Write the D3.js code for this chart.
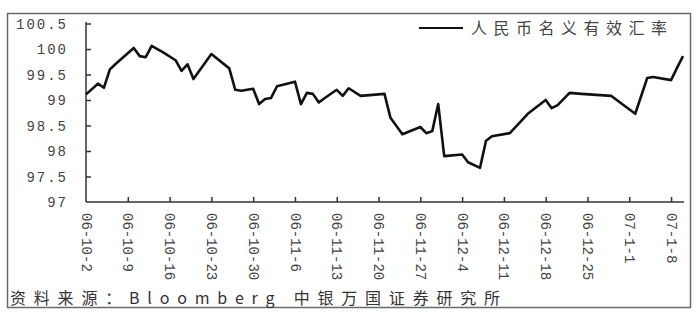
<!DOCTYPE html>
<html><head><meta charset="utf-8">
<script src="https://cdn.jsdelivr.net/npm/d3@7"></script>
<style>html,body{margin:0;padding:0;background:#fff;}svg{display:block;}</style>
</head><body>
<svg id="c" width="698" height="312"></svg>
<script>
const dates = ["2006-10-02","2006-10-04","2006-10-05","2006-10-06","2006-10-07","2006-10-10","2006-10-11","2006-10-12","2006-10-13","2006-10-15","2006-10-17","2006-10-18","2006-10-19","2006-10-20","2006-10-23","2006-10-26","2006-10-27","2006-10-28","2006-10-30","2006-10-31","2006-11-01","2006-11-02","2006-11-03","2006-11-06","2006-11-07","2006-11-08","2006-11-09","2006-11-10","2006-11-11","2006-11-13","2006-11-14","2006-11-15","2006-11-17","2006-11-21","2006-11-22","2006-11-24","2006-11-27","2006-11-28","2006-11-29","2006-11-30","2006-12-01","2006-12-04","2006-12-05","2006-12-07","2006-12-08","2006-12-09","2006-12-12","2006-12-15","2006-12-18","2006-12-19","2006-12-20","2006-12-22","2006-12-24","2006-12-29","2007-01-02","2007-01-04","2007-01-05","2007-01-08","2007-01-09","2007-01-10"];
const values = [99.11,99.32,99.24,99.60,99.71,100.02,99.86,99.84,100.06,99.93,99.78,99.57,99.70,99.41,99.90,99.62,99.20,99.18,99.22,98.92,99.02,99.04,99.27,99.36,98.92,99.14,99.12,98.95,99.04,99.20,99.08,99.23,99.08,99.12,98.65,98.33,98.47,98.35,98.39,98.92,97.90,97.93,97.78,97.67,98.20,98.29,98.35,98.73,99.00,98.84,98.90,99.14,99.12,99.08,98.73,99.43,99.45,99.39,99.63,99.86];
const tickDates = ["2006-10-02","2006-10-09","2006-10-16","2006-10-23","2006-10-30","2006-11-06","2006-11-13","2006-11-20","2006-11-27","2006-12-04","2006-12-11","2006-12-18","2006-12-25","2007-01-01","2007-01-08"];
const tickLabels = ["06-10-2","06-10-9","06-10-16","06-10-23","06-10-30","06-11-6","06-11-13","06-11-20","06-11-27","06-12-4","06-12-11","06-12-18","06-12-25","07-1-1","07-1-8"];
const yTicks = [97,97.5,98,98.5,99,99.5,100,100.5];
const yTickLabels = ["97","97.5","98","98.5","99","99.5","100","100.5"];
const seriesName = "人民币名义有效汇率";
const sourceText = "资料来源：Bloomberg 中银万国证券研究所";

const parse = d3.utcParse("%Y-%m-%d");
const data = dates.map((d,i)=>({date:parse(d), value:values[i]}));
const tDates = tickDates.map(parse);

const svg = d3.select("#c");
const mLeft = 86, mBottom = 202, mRight = 683, mTop = 23.5;
const x = d3.scaleUtc().domain([parse("2006-10-02"), parse("2007-01-10")]).range([mLeft, mRight]);
const y = d3.scaleLinear().domain([97, 100.5]).range([mBottom, mTop]);

// outer frame
svg.append("rect").attr("x",7.5).attr("y",13.5).attr("width",683).attr("height",294)
  .attr("fill","#fff").attr("stroke","#6a6a6a").attr("stroke-width",1.5);

const monoFont = "'Liberation Mono', 'DejaVu Sans Mono', monospace";

// y axis labels
const yLab = svg.append("g").attr("transform",`translate(${mLeft},0)`)
  .call(d3.axisLeft(y).tickValues(yTicks).tickSize(0).tickPadding(18).tickFormat((d,i)=>yTickLabels[i]));
yLab.select(".domain").remove();
yLab.selectAll("text").attr("font-family",monoFont).attr("font-size",14).attr("fill","#444")
  .attr("letter-spacing","2px").attr("dy","0.35em");
// y inward ticks
const yIn = svg.append("g").attr("transform",`translate(${mLeft},0)`)
  .call(d3.axisRight(y).tickValues(yTicks.slice(1)).tickSize(5).tickFormat(""));
yIn.select(".domain").remove();
yIn.selectAll("line").attr("stroke","#333").attr("stroke-width",1.5);

// x labels
const xLab = svg.append("g").attr("transform",`translate(0,${mBottom})`)
  .call(d3.axisBottom(x).tickValues(tDates).tickSize(0).tickFormat((d,i)=>tickLabels[i]));
xLab.select(".domain").remove();
xLab.selectAll("text")
  .attr("font-family",monoFont).attr("font-size",14).attr("fill","#444")
  .attr("text-anchor","start").attr("dy","0.35em").attr("y",0)
  .attr("transform","translate(0,11) rotate(90)")
  .attr("x",0);
// x inward ticks
const xIn = svg.append("g").attr("transform",`translate(0,${mBottom})`)
  .call(d3.axisTop(x).tickValues(tDates.slice(1)).tickSize(5).tickFormat(""));
xIn.select(".domain").remove();
xIn.selectAll("line").attr("stroke","#333").attr("stroke-width",1.5);

// axis lines
svg.append("line").attr("x1",mLeft).attr("x2",mLeft).attr("y1",22).attr("y2",mBottom)
  .attr("stroke","#333").attr("stroke-width",1.5);
svg.append("line").attr("x1",mLeft).attr("x2",mRight+1).attr("y1",mBottom).attr("y2",mBottom)
  .attr("stroke","#333").attr("stroke-width",1.5);

// series line
const line = d3.line().x(d=>x(d.date)).y(d=>y(d.value));
svg.append("path").datum(data).attr("d",line).attr("fill","none")
  .attr("stroke","#111").attr("stroke-width",2.6).attr("stroke-linejoin","round");

// legend
svg.append("line").attr("x1",419).attr("x2",463).attr("y1",28).attr("y2",28)
  .attr("stroke","#111").attr("stroke-width",2.2);
svg.append("text").attr("x",471).attr("y",34).text(seriesName)
  .attr("font-family","'Noto Sans CJK SC', sans-serif").attr("font-size",16)
  .attr("letter-spacing","6.5px").attr("fill","#444");

// source
svg.append("text").attr("x",10).attr("y",304).text(sourceText)
  .attr("font-family","'Noto Sans CJK SC', sans-serif").attr("font-size",16)
  .attr("letter-spacing","7.8px").attr("fill","#333");
</script>
</body></html>
